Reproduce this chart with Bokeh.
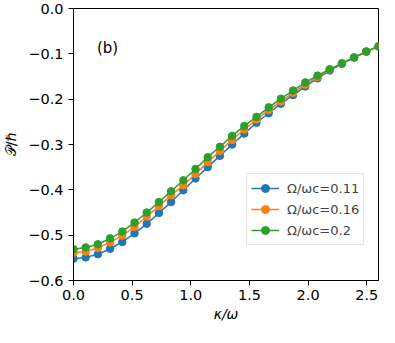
from bokeh.plotting import figure
from bokeh.models import Range1d, FixedTicker, CustomJSTickFormatter, Legend, LegendItem, Label
from bokeh.embed import file_html
from bokeh.resources import INLINE

kappa = [0.0, 0.104, 0.208, 0.312, 0.416, 0.52, 0.624, 0.728, 0.832, 0.936, 1.04, 1.144, 1.248,
         1.352, 1.456, 1.56, 1.664, 1.768, 1.872, 1.976, 2.08, 2.184, 2.288, 2.392, 2.496, 2.6]

p_011 = [-0.552, -0.549, -0.542, -0.530, -0.515, -0.496, -0.475, -0.451, -0.427, -0.401, -0.375,
         -0.350, -0.325, -0.300, -0.276, -0.252, -0.231, -0.210, -0.191, -0.172, -0.154, -0.137,
         -0.122, -0.108, -0.095, -0.083]
p_016 = [-0.539, -0.536, -0.528, -0.516, -0.501, -0.482, -0.459, -0.436, -0.412, -0.390, -0.365,
         -0.339, -0.314, -0.290, -0.267, -0.245, -0.224, -0.205, -0.186, -0.168, -0.151, -0.135,
         -0.121, -0.108, -0.095, -0.083]
p_020 = [-0.531, -0.527, -0.520, -0.507, -0.492, -0.472, -0.450, -0.427, -0.403, -0.379, -0.354,
         -0.328, -0.305, -0.281, -0.259, -0.239, -0.218, -0.199, -0.181, -0.163, -0.148, -0.134,
         -0.121, -0.108, -0.095, -0.084]

labels = ["Ω/ωc=0.11", "Ω/ωc=0.16", "Ω/ωc=0.2"]
colors = ["#1f77b4", "#ff7f0e", "#2ca02c"]
x_ticks = [0.0, 0.5, 1.0, 1.5, 2.0, 2.5]
y_ticks = [0.0, -0.1, -0.2, -0.3, -0.4, -0.5, -0.6]

p = figure(width=379, height=327, output_backend="svg", toolbar_location=None,
           x_range=Range1d(0, 2.6), y_range=Range1d(-0.6, 0.0),
           min_border_left=68, min_border_right=1, min_border_top=8, min_border_bottom=47)

p.xgrid.visible = False
p.ygrid.visible = False
p.outline_line_color = "black"
p.outline_line_width = 1
p.outline_line_alpha = 1

for ax in (p.xaxis[0], p.yaxis[0]):
    ax.axis_line_color = "black"
    ax.major_tick_line_color = "black"
    ax.major_tick_out = 5
    ax.major_tick_in = 0
    ax.minor_tick_line_color = None
    ax.major_label_text_font = "DejaVu Sans"
    ax.major_label_text_font_size = "14.5px"
    ax.major_label_text_color = "black"
    ax.axis_label_text_font = "DejaVu Sans"
    ax.axis_label_text_font_size = "14px"
    ax.axis_label_text_font_style = "normal"
    ax.axis_label_text_color = "black"

p.xaxis.ticker = FixedTicker(ticks=x_ticks)
p.yaxis.ticker = FixedTicker(ticks=y_ticks)
p.xaxis.formatter = CustomJSTickFormatter(code="return tick.toFixed(1);")
p.yaxis.formatter = CustomJSTickFormatter(code="return tick.toFixed(1).replace('-', '\u2212');")
p.xaxis.axis_label = "κ/ω"
p.xaxis.axis_label_text_font_style = "italic"
p.yaxis.axis_label = "𝒫/ℏ"
p.xaxis.major_label_standoff = 4
p.xaxis.axis_label_standoff = 3
p.yaxis.major_label_standoff = 5
p.yaxis.axis_label_standoff = 6

items = []
for ys, c, lab in zip([p_011, p_016, p_020], colors, labels):
    r1 = p.line(kappa, ys, line_color=c, line_width=1.5)
    r2 = p.scatter(kappa, ys, marker="circle", size=7.5, fill_color=c, line_color=c)
    items.append(LegendItem(label=lab, renderers=[r1, r2]))

legend = Legend(items=items, location=(173, 35), margin=0, padding=4, spacing=1,
                glyph_width=28, glyph_height=20, label_height=20, label_standoff=8,
                label_text_font="DejaVu Sans", label_text_font_size="13px",
                border_line_color="#cccccc", border_line_width=1,
                background_fill_color="white", background_fill_alpha=0.8)
p.add_layout(legend)

p.add_layout(Label(x=0.2, y=-0.088, text="(b)", text_font="DejaVu Sans", text_font_size="15px",
                   text_baseline="middle", text_align="left", text_color="black"))

open("out.html", "w").write(file_html(p, INLINE))
